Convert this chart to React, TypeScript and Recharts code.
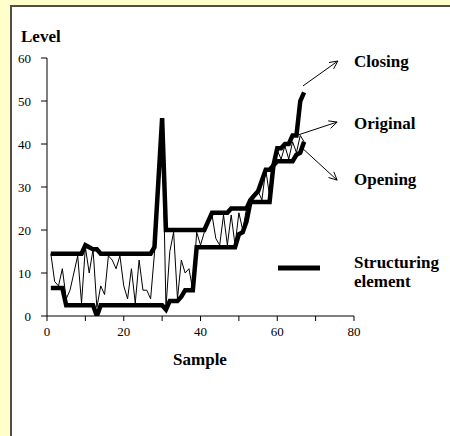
import React from "react";
import { LineChart, Line, XAxis, YAxis, ReferenceLine } from "recharts";

const SERIF = "'Liberation Serif', 'Times New Roman', serif";

// sample index (x)
const samples = [
  1, 2, 3, 4, 5, 6, 7, 8, 9, 10, 11, 12, 13, 14, 15, 16, 17, 18, 19, 20,
  21, 22, 23, 24, 25, 26, 27, 28, 29, 30, 31, 32, 33, 34, 35, 36, 37, 38, 39, 40,
  41, 42, 43, 44, 45, 46, 47, 48, 49, 50, 51, 52, 53, 54, 55, 56, 57, 58, 59, 60,
  61, 62, 63, 64, 65, 66, 67,
];

const original = [
  14.5, 8, 7, 11, 4, 6, 10, 14, 3, 16, 10, 15.5, 2, 7, 5, 14, 13, 11, 14, 7,
  4, 11, 3, 13, 6, 6, 4, 14.5, 30, 46, 2, 15, 19.5, 4, 13, 10, 11, 6, 19.5, 16.5,
  19.5, 22, 23.5, 18, 16.5, 23.5, 16.5, 23.5, 16.5, 24, 20, 25, 26.5, 27.5, 29, 27, 34, 28, 35, 38.5,
  36.5, 39.5, 36.5, 40.5, 38, 42, 40.5,
];

const closing = [
  14.5, 14.5, 14.5, 14.5, 14.5, 14.5, 14.5, 14.5, 14.5, 16.5, 16, 15.5, 15.5, 14.5, 14.5, 14.5, 14.5, 14.5, 14.5, 14.5,
  14.5, 14.5, 14.5, 14.5, 14.5, 14.5, 14.5, 16, 31, 46, 20, 20, 20, 20, 20, 20, 20, 20, 20, 20,
  20, 22, 24, 24, 24, 24, 24, 25, 25, 25, 25, 25, 27, 28, 29, 31.5, 34, 34, 35, 39,
  39, 40, 40, 42, 42, 50, 52,
];

const opening = [
  6.5, 6.5, 6.5, 6.5, 2.5, 2.5, 2.5, 2.5, 2.5, 2.5, 2.5, 2.5, 0, 2.5, 2.5, 2.5, 2.5, 2.5, 2.5, 2.5,
  2.5, 2.5, 2.5, 2.5, 2.5, 2.5, 2.5, 2.5, 2.5, 2.5, 1.5, 3.5, 3.5, 3.5, 4.5, 6, 6, 6, 16, 16,
  16, 16, 16, 16, 16, 16, 16, 16, 16, 19, 19.5, 22, 26.5, 26.5, 26.5, 26.5, 26.5, 26.5, 35, 36,
  36, 36, 36, 36, 37.5, 38, 40.5,
];

const xTicks = [0, 10, 20, 30, 40, 50, 60, 70, 80];
const yTicks = [0, 5, 10, 15, 20, 25, 30, 35, 40, 45, 50, 55, 60];

// annotation arrows, in data coordinates [from, to]
const arrows = [
  { from: [66.7, 53.5], to: [75.8, 59.3] }, // Closing
  { from: [65.4, 42.1], to: [75.6, 45.1] }, // Original
  { from: [66.2, 39.3], to: [75.6, 31.6] }, // Opening
];

const data = samples.map((s, i) => ({
  s,
  orig: original[i],
  close: closing[i],
  open: opening[i],
}));

function YTick({ x, y, payload }: any) {
  const major = payload.value % 10 === 0;
  return (
    <g>
      <line x1={x - (major ? 6 : 3)} x2={x} y1={y} y2={y} stroke="#000" />
      {major && (
        <text
          x={x - 16}
          y={y}
          textAnchor="end"
          dominantBaseline="central"
          fontFamily={SERIF}
          fontSize={13}
          fill="#000"
        >
          {payload.value}
        </text>
      )}
    </g>
  );
}

function ArrowShape(props: any) {
  const { x1, y1, x2, y2 } = props;
  const ang = Math.atan2(y2 - y1, x2 - x1);
  const len = 9;
  const spread = 0.45;
  const ax = x2 - len * Math.cos(ang - spread);
  const ay = y2 - len * Math.sin(ang - spread);
  const bx = x2 - len * Math.cos(ang + spread);
  const by = y2 - len * Math.sin(ang + spread);
  return (
    <g stroke="#000" strokeWidth={1} fill="none">
      <line x1={x1} y1={y1} x2={x2} y2={y2} />
      <polyline points={`${ax},${ay} ${x2},${y2} ${bx},${by}`} />
    </g>
  );
}

const labelStyle = { fontFamily: SERIF, fontSize: 17, fontWeight: 700, fill: "#000" };

export default function App() {
  return (
    <div style={{ position: "absolute", left: 0, top: 0, width: 450, height: 436, background: "#FFFFCC", overflow: "hidden" }}>
      <div
        style={{
          position: "absolute",
          left: 10,
          top: 5,
          width: 440,
          height: 431,
          background: "#fff",
          borderLeft: "2px solid #4f4f42",
          borderTop: "2px solid #4f4f42",
        }}
      />
      <div style={{ position: "absolute", left: 0, top: 0 }}>
        <LineChart width={450} height={436} data={data} margin={{ top: 58, right: 96, bottom: 0, left: 0 }}>
          <XAxis
            type="number"
            dataKey="s"
            domain={[0, 80]}
            ticks={xTicks}
            height={120}
            tickSize={5}
            tickMargin={6}
            stroke="#000"
            tick={{ fontFamily: SERIF, fontSize: 13, fill: "#000" }}
            tickFormatter={(v: number) => (v % 20 === 0 ? String(v) : "")}
            allowDataOverflow
          />
          <YAxis
            type="number"
            domain={[0, 60]}
            ticks={yTicks}
            width={47}
            tickSize={0}
            tickMargin={0}
            tickLine={false}
            stroke="#000"
            tick={<YTick />}
            allowDataOverflow
          />
          <Line type="linear" dataKey="orig" stroke="#000" strokeWidth={1} dot={false} isAnimationActive={false} />
          <Line type="linear" dataKey="close" stroke="#000" strokeWidth={4.5} dot={false} isAnimationActive={false} />
          <Line type="linear" dataKey="open" stroke="#000" strokeWidth={4.5} dot={false} isAnimationActive={false} />
          {arrows.map((a, i) => (
            <ReferenceLine
              key={i}
              segment={[
                { x: a.from[0], y: a.from[1] },
                { x: a.to[0], y: a.to[1] },
              ]}
              shape={ArrowShape}
              ifOverflow="visible"
            />
          ))}
        </LineChart>
      </div>
      <svg width={450} height={436} style={{ position: "absolute", left: 0, top: 0, pointerEvents: "none" }}>
        <text x={21} y={42} {...labelStyle}>Level</text>
        <text x={200} y={365} textAnchor="middle" {...labelStyle}>Sample</text>
        <text x={354} y={67} {...labelStyle}>Closing</text>
        <text x={354} y={129} {...labelStyle}>Original</text>
        <text x={354} y={185} {...labelStyle}>Opening</text>
        <text x={354} y={268} {...labelStyle}>Structuring</text>
        <text x={354} y={287} {...labelStyle}>element</text>
        <line x1={278} x2={320} y1={268} y2={268} stroke="#000" strokeWidth={5} />
      </svg>
    </div>
  );
}
